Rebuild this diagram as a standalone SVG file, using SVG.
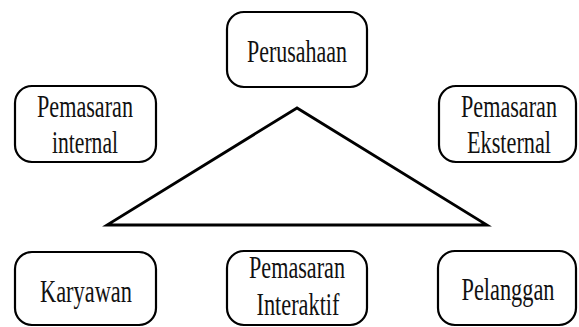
<svg xmlns="http://www.w3.org/2000/svg" width="579" height="327" viewBox="0 0 579 327">
<style>
.box{fill:#fff;stroke:#000;stroke-width:2.2}
.t{font-family:"Liberation Serif","Times New Roman",serif;font-size:32px;fill:#111;text-anchor:middle}
.tri{fill:none;stroke:#000;stroke-width:2.8;stroke-linejoin:miter}
</style>
<rect width="579" height="327" fill="#fff"/>
<g id="connectors">
<polygon class="tri" points="297,108 107,225 487,225"/>
</g>
<g id="perusahaan">
<rect class="box" x="227" y="12" width="140" height="75" rx="17"/>
<text class="t" x="297" y="62" textLength="100" lengthAdjust="spacingAndGlyphs">Perusahaan</text>
</g>
<g id="pemasaran-internal">
<rect class="box" x="15" y="86" width="141" height="76" rx="17"/>
<text class="t" x="85" y="117" textLength="96" lengthAdjust="spacingAndGlyphs">Pemasaran</text>
<text class="t" x="85" y="153" textLength="66" lengthAdjust="spacingAndGlyphs">internal</text>
</g>
<g id="pemasaran-eksternal">
<rect class="box" x="439" y="86" width="137" height="76" rx="17"/>
<text class="t" x="509" y="117" textLength="96" lengthAdjust="spacingAndGlyphs">Pemasaran</text>
<text class="t" x="509" y="153" textLength="84" lengthAdjust="spacingAndGlyphs">Eksternal</text>
</g>
<g id="karyawan">
<rect class="box" x="15" y="252" width="141" height="73" rx="17"/>
<text class="t" x="86" y="302" textLength="92" lengthAdjust="spacingAndGlyphs">Karyawan</text>
</g>
<g id="pemasaran-interaktif">
<rect class="box" x="227" y="251" width="140" height="74" rx="17"/>
<text class="t" x="297" y="278" textLength="96" lengthAdjust="spacingAndGlyphs">Pemasaran</text>
<text class="t" x="298" y="315" textLength="83" lengthAdjust="spacingAndGlyphs">Interaktif</text>
</g>
<g id="pelanggan">
<rect class="box" x="438" y="251" width="138" height="74" rx="17"/>
<text class="t" x="508" y="300" textLength="93" lengthAdjust="spacingAndGlyphs">Pelanggan</text>
</g>
</svg>
